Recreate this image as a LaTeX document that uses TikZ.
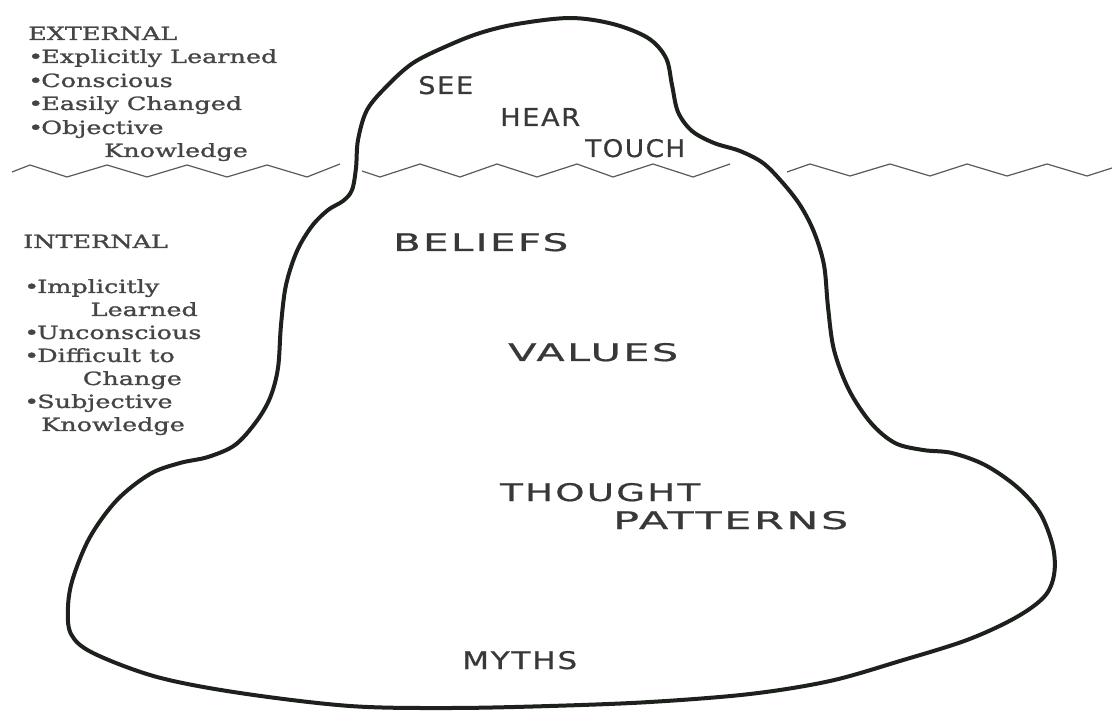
\documentclass[tikz,border=0pt]{standalone}
\usepackage{fontspec}
\usepackage{graphicx}
\newfontfamily\serifl[FakeStretch=1.40,FakeBold=1.3]{DejaVu Serif}
\newfontfamily\sansl[LetterSpace=6,FakeBold=0.6]{DejaVu Sans}
\definecolor{ink}{HTML}{1C211C}
\definecolor{txt}{HTML}{454545}
\definecolor{txtb}{HTML}{383838}
\definecolor{wave}{HTML}{5A5A5A}
\newcommand\ibtext[2]{\resizebox{#1}{18pt}{\sansl #2}}
\newcommand\bul{•\kern-2pt}
\begin{document}
\begin{tikzpicture}[x=1pt,y=-1pt,
  lefttext/.style={font=\serifl\fontsize{18.2}{20}\selectfont, text=txt, inner sep=0pt, anchor=base west},
  righttext/.style={lefttext, anchor=base east},
  innertext/.style={text=txtb, inner sep=0pt, anchor=base west},
  berg/.style={draw=ink, line width=4pt, line join=round},
  wavy/.style={draw=wave, line width=1.2pt, line join=miter}]

\fill[white] (0,0) rectangle (1112,711);
\useasboundingbox (0,0) rectangle (1112,711);

% iceberg outline
\draw[berg] plot[smooth cycle, tension=0.55] coordinates {
(570,18) (613,24) (648,38) (666,58) (672,85) (678,112) (692,131) (714,143)
(740,151) (763,163) (782,182) (800,205) (814,232) (824,265) (828,307) (834,350)
(849,390) (871,423) (895,443) (923,450) (952,453) (985,465) (1017,487) (1040,513)
(1053,547) (1054,575) (1044,597) (1015,618) (967,640) (900,661) (830,681) (750,694)
(650,702) (550,706) (450,708) (350,706) (240,693) (157,677) (93,653) (71,634)
(68,607) (73,578) (90,537) (117,500) (150,474) (180,463) (208,457) (235,445)
(256,422) (270,398) (278,368) (281,325) (286,285) (297,251) (312,226) (328,210)
(343,201) (352,190) (356,168) (358,140) (367,110) (387,86) (413,63) (447,46)
(480,33) (517,24)};

% waterline
\draw[wavy] (12,172) -- (30,165) -- (67,177) -- (107,165) -- (147,177) -- (187,165)
  -- (227,177) -- (267,165) -- (307,177) -- (340,164);
\draw[wavy] (362,171) -- (380,177) -- (420,164) -- (460,177) -- (497,164) -- (537,177)
  -- (577,164) -- (613,177) -- (653,164) -- (693,177) -- (730,164);
\draw[wavy] (787,172) -- (810,164) -- (850,176) -- (890,164) -- (930,176) -- (967,164)
  -- (1007,176) -- (1047,164) -- (1087,176) -- (1112,168);

% external block
\node[lefttext] (ext) at (28,40) {EXTERNAL};
\node[lefttext] (ext1) at (28,63) {\bul Explicitly Learned};
\node[lefttext] (ext2) at (28,87) {\bul Conscious};
\node[lefttext] (ext3) at (28,110) {\bul Easily Changed};
\node[lefttext] (ext4) at (28,134) {\bul Objective};
\node[righttext] (ext5) at (248,157) {Knowledge};

% internal block
\node[lefttext] (int) at (23,248) {INTERNAL};
\node[lefttext] (int1) at (24,293) {\bul Implicitly};
\node[righttext] (int2) at (198,316) {Learned};
\node[lefttext] (int3) at (24,339) {\bul Unconscious};
\node[lefttext] (int4) at (24,362) {\bul Difficult to};
\node[righttext] (int5) at (182,385) {Change};
\node[lefttext] (int6) at (24,408) {\bul Subjective};
\node[righttext] (int7) at (185,431) {Knowledge};

% inner labels
\node[innertext] (see) at (418,94) {\ibtext{55pt}{SEE}};
\node[innertext] (hear) at (500,126) {\ibtext{80pt}{HEAR}};
\node[innertext] (touch) at (585,157) {\ibtext{100pt}{TOUCH}};
\node[innertext] (beliefs) at (393,251) {\ibtext{175pt}{BELIEFS}};
\node[innertext] (values) at (508,361) {\ibtext{170pt}{VALUES}};
\node[innertext] (thought) at (500,501) {\ibtext{200pt}{THOUGHT}};
\node[innertext] (patterns) at (613,529) {\ibtext{235pt}{PATTERNS}};
\node[innertext] (myths) at (462,669) {\ibtext{115pt}{MYTHS}};
\end{tikzpicture}
\end{document}
